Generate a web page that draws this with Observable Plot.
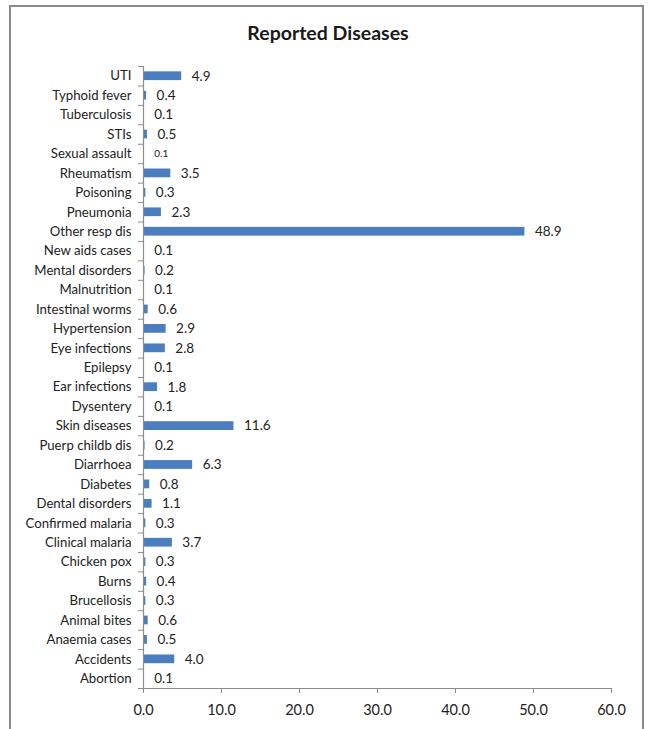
<!DOCTYPE html>
<html>
<head>
<meta charset="utf-8">
<script src="https://cdn.jsdelivr.net/npm/d3@7"></script>
<script src="https://cdn.jsdelivr.net/npm/@observablehq/plot@0.6"></script>
<style>
  html, body { margin: 0; padding: 0; background: #fff; overflow: hidden; }
  body { width: 648px; height: 729px; position: relative; font-family: Lato, "Open Sans", sans-serif; }
  #frame { position: absolute; left: 9px; top: 5px; width: 635px; height: 760px; border: 2px solid #8a8a8a; box-sizing: border-box; }
  #title { position: absolute; left: 0; top: 21px; width: 656px; text-align: center; font-size: 19.5px; font-weight: bold; color: #1a1a1a; }
  #chart { position: absolute; left: 0; top: 50px; }
  #chart svg { display: block; }
</style>
</head>
<body>
<div id="frame"></div>
<div id="title">Reported Diseases</div>
<div id="chart"></div>
<script>
const diseases = ["UTI","Typhoid fever","Tuberculosis","STIs","Sexual assault","Rheumatism","Poisoning","Pneumonia","Other resp dis","New aids cases","Mental disorders","Malnutrition","Intestinal worms","Hypertension","Eye infections","Epilepsy","Ear infections","Dysentery","Skin diseases","Puerp childb dis","Diarrhoea","Diabetes","Dental disorders","Confirmed malaria","Clinical malaria","Chicken pox","Burns","Brucellosis","Animal bites","Anaemia cases","Accidents","Abortion"];
const percents = [4.9,0.4,0.1,0.5,0.1,3.5,0.3,2.3,48.9,0.1,0.2,0.1,0.6,2.9,2.8,0.1,1.8,0.1,11.6,0.2,6.3,0.8,1.1,0.3,3.7,0.3,0.4,0.3,0.6,0.5,4.0,0.1];
const xTicks = [0,10,20,30,40,50,60];

const data = diseases.map((d, i) => ({disease: d, value: percents[i]}));
const H = 679, mT = 16, mB = 41;
const half = (H - mT - mB) / diseases.length / 2;
const axisColor = "#8c8c8c";

const chart = Plot.plot({
  width: 648,
  height: H,
  marginLeft: 143,
  marginRight: 37,
  marginTop: mT,
  marginBottom: mB,
  style: {fontFamily: "Lato, 'Open Sans', sans-serif", color: "#222", background: "transparent"},
  x: {domain: [0, 60], ticks: xTicks, tickFormat: d3.format(".1f"), label: null},
  y: {domain: diseases, paddingInner: 0.55, paddingOuter: 0.275, round: false, label: null},
  marks: [
    Plot.barX(data, {x: "value", y: "disease", fill: "#4a7ebf"}),
    Plot.text(data, {x: "value", y: "disease", text: d => d3.format(".1f")(d.value), dx: 10, textAnchor: "start",
      fontSize: d => d.disease === "Sexual assault" ? 10 : 13.5, fill: "#222"}),
    Plot.ruleX([0], {stroke: axisColor, strokeWidth: 1.2}),
    Plot.ruleY(diseases, {y: d => d, x1: -0.65, x2: 0, dy: half, stroke: axisColor, clip: false}),
    Plot.ruleY([diseases[0]], {y: d => d, x1: -0.65, x2: 0, dy: -half, stroke: axisColor, clip: false}),
    Plot.frame({anchor: "bottom", stroke: axisColor, strokeWidth: 1.2}),
    Plot.axisX({ticks: xTicks, tickFormat: d3.format(".1f"), tickSize: 5, tickPadding: 11, fontSize: 14.5, stroke: axisColor, color: "#222", label: null}),
    Plot.axisY({tickSize: 0, tickPadding: 12, fontSize: 13.2, color: "#222", label: null})
  ]
});
document.getElementById("chart").appendChild(chart);
</script>
</body>
</html>
